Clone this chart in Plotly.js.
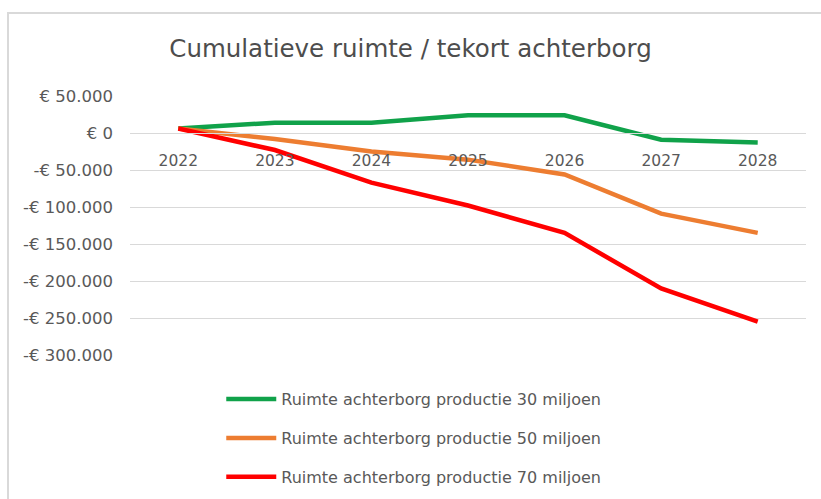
<!DOCTYPE html>
<html>
<head>
<meta charset="utf-8">
<script src="https://cdn.plot.ly/plotly-3.0.1.min.js"></script>
<style>
  html, body { margin: 0; padding: 0; background: #ffffff; overflow: hidden; }
  #wrap { position: relative; width: 821px; height: 499px; overflow: hidden; }
  #frame { position: absolute; left: 7px; top: 12px; width: 814px; height: 487px; box-sizing: border-box;
           border-left: 2px solid #d9d9d9; border-top: 2px solid #d9d9d9; }
  #chart { position: absolute; left: 0; top: 0; width: 821px; height: 499px; }
</style>
</head>
<body>
<div id="wrap">
  <div id="frame"></div>
  <div id="chart"></div>
</div>
<script>
// ---- data ----
const years = ['2022', '2023', '2024', '2025', '2026', '2027', '2028'];
const seriesNames = [
  'Ruimte achterborg productie 30 miljoen',
  'Ruimte achterborg productie 50 miljoen',
  'Ruimte achterborg productie 70 miljoen'
];
const prod30 = [6000, 14000, 14000, 24000, 24000, -9000, -13000];
const prod50 = [6000, -8000, -25000, -36000, -56000, -109000, -135000];
const prod70 = [6000, -23000, -67000, -98000, -135000, -210000, -255000];
const yTickVals = [50000, 0, -50000, -100000, -150000, -200000, -250000, -300000];
const yTickText = ['€ 50.000', '€ 0', '-€ 50.000', '-€ 100.000', '-€ 150.000', '-€ 200.000', '-€ 250.000', '-€ 300.000'];
const titleText = 'Cumulatieve ruimte / tekort achterborg';

// ---- styles ----
const colors = ['#10A24A', '#ED7D31', '#FF0000'];
const allSeries = [prod30, prod50, prod70];
const fontFam = '"DejaVu Sans", Verdana, sans-serif';
const textColor = '#595959';

const traces = allSeries.map((vals, i) => ({
  type: 'scatter',
  mode: 'lines',
  x: years,
  y: vals,
  name: seriesNames[i],
  legendgroup: 'g' + i,
  line: { color: colors[i], width: 4.5 },
  hoverinfo: 'skip'
}));

const yMin = -300000, yMax = 50000;

const layout = {
  width: 821,
  height: 499,
  margin: { l: 130, r: 15, t: 96, b: 144, autoexpand: false },
  paper_bgcolor: 'rgba(0,0,0,0)',
  plot_bgcolor: 'rgba(0,0,0,0)',
  font: { family: fontFam, color: textColor, size: 15 },
  title: {
    text: titleText,
    font: { family: fontFam, size: 24.5, color: '#4d4d4d' },
    x: 0.5, xref: 'container', xanchor: 'center',
    y: 50, yref: 'container', yanchor: 'middle'
  },
  xaxis: {
    type: 'category',
    range: [-0.5, years.length - 0.5],
    anchor: 'free',
    position: (0 - yMin) / (yMax - yMin),
    showline: true,
    linecolor: '#d9d9d9',
    linewidth: 1,
    showgrid: false,
    ticks: '',
    ticklabelstandoff: 13,
    tickfont: { family: fontFam, size: 15.5, color: textColor },
    fixedrange: true
  },
  yaxis: {
    range: [yMin, yMax],
    tickvals: yTickVals,
    ticktext: yTickText,
    showgrid: true,
    gridcolor: '#d9d9d9',
    gridwidth: 1,
    zeroline: false,
    showline: false,
    ticks: '',
    ticklabelstandoff: 16,
    tickfont: { family: fontFam, size: 16.5, color: textColor },
    fixedrange: true
  },
  showlegend: true,
  legend: {
    x: 0.135, xanchor: 'left',
    y: -0.105, yanchor: 'top',
    orientation: 'v',
    traceorder: 'grouped',
    tracegroupgap: 15,
    itemwidth: 50,
    font: { family: fontFam, size: 16, color: textColor },
    bgcolor: 'rgba(0,0,0,0)'
  }
};

Plotly.newPlot('chart', traces, layout, { displayModeBar: false, staticPlot: true });
</script>
</body>
</html>
